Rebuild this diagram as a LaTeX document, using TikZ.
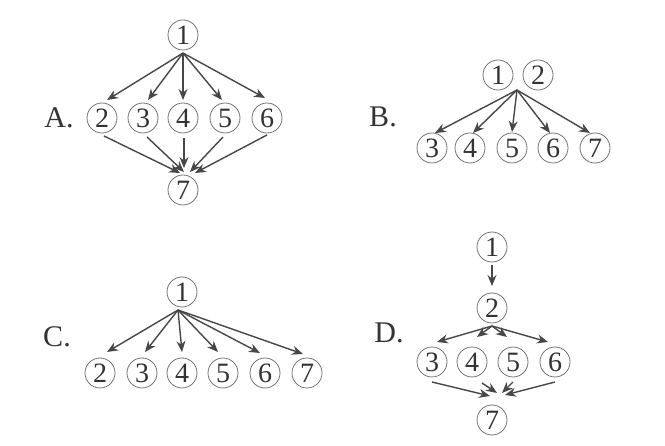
\documentclass[tikz,border=0pt]{standalone}
\usepackage{fontspec}
\setmainfont{Liberation Serif}
\usetikzlibrary{arrows.meta,calc}
\begin{document}
\begin{tikzpicture}[x=1pt,y=-1pt,
  num/.style={circle,draw=black!55,line width=0.8pt,minimum size=30pt,inner sep=0pt,
    font=\fontsize{28}{28}\selectfont,text=black!80},
  lab/.style={font=\fontsize{30}{30}\selectfont,text=black!80},
  arr/.style={draw=black!72,line width=1.4pt,-{Stealth[length=11pt,width=9pt]}}]
\useasboundingbox[fill=white] (0,0) rectangle (665,446);
% ---------- A ----------
\node[lab] (la) at (59,118) {A.};
\node[num] (a1) at (183,35) {1};
\node[num] (a2) at (102,118) {2};
\node[num] (a3) at (143,118) {3};
\node[num] (a4) at (183,118) {4};
\node[num] (a5) at (225,118) {5};
\node[num] (a6) at (267,118) {6};
\node[num] (a7) at (183,190) {7};
\coordinate (a1s) at ($(a1)+(0,18)$);
\draw[arr] (a1s) -- ($(a2)+(5,-18)$);
\draw[arr] (a1s) -- ($(a3)+(5,-18)$);
\draw[arr] (a1s) -- ($(a4)+(0,-18)$);
\draw[arr] (a1s) -- ($(a5)+(-3,-18)$);
\draw[arr] (a1s) -- ($(a6)+(-2,-20)$);
\draw[arr] ($(a2)+(2,18)$) -- ($(a7)+(-3,-17)$);
\draw[arr] ($(a3)+(4,19)$) -- ($(a7)+(1,-18)$);
\draw[arr] ($(a4)+(1,20)$) -- ($(a7)+(1,-22)$);
\draw[arr] ($(a5)+(-2,19)$) -- ($(a7)+(7,-18)$);
\draw[arr] ($(a6)+(0,17)$) -- ($(a7)+(12,-17)$);
% ---------- B ----------
\node[lab] (lb) at (383,117) {B.};
\node[num] (b1) at (498,75) {1};
\node[num] (b2) at (538,75) {2};
\node[num] (b3) at (432,148) {3};
\node[num] (b4) at (470,148) {4};
\node[num] (b5) at (512,148) {5};
\node[num] (b6) at (553,148) {6};
\node[num] (b7) at (595,148) {7};
\coordinate (bs) at ($(b1)!0.5!(b2)+(-1,15)$);
\draw[arr] (bs) -- ($(b3)+(3,-15)$);
\draw[arr] (bs) -- ($(b4)+(3,-15)$);
\draw[arr] (bs) -- ($(b5)+(0,-16)$);
\draw[arr] (bs) -- ($(b6)+(-3,-15)$);
\draw[arr] (bs) -- ($(b7)+(-5,-15)$);
% ---------- C ----------
\node[lab] (lc) at (57,337) {C.};
\node[num] (c1) at (182,292) {1};
\node[num] (c2) at (100,373) {2};
\node[num] (c3) at (142,373) {3};
\node[num] (c4) at (182,373) {4};
\node[num] (c5) at (223,373) {5};
\node[num] (c6) at (265,373) {6};
\node[num] (c7) at (307,373) {7};
\coordinate (cs) at ($(c1)+(-4,18)$);
\draw[arr] (cs) -- ($(c2)+(7,-21)$);
\draw[arr] (cs) -- ($(c3)+(3,-21)$);
\draw[arr] (cs) -- ($(c4)+(0,-21)$);
\draw[arr] (cs) -- ($(c5)+(-5,-21)$);
\draw[arr] (cs) -- ($(c6)+(-5,-20)$);
\draw[arr] (cs) -- ($(c7)+(-4,-19)$);
% ---------- D ----------
\node[lab] (ld) at (389,333) {D.};
\node[num] (d1) at (492,247) {1};
\node[num] (d2) at (492,308) {2};
\node[num] (d3) at (432,362) {3};
\node[num] (d4) at (472,362) {4};
\node[num] (d5) at (513,362) {5};
\node[num] (d6) at (555,362) {6};
\node[num] (d7) at (492,420) {7};
\draw[arr] ($(d1)+(0,18)$) -- ($(d2)+(0,-22)$);
\coordinate (ds) at ($(d2)+(0,18)$);
\draw[arr] (ds) -- ($(d3)+(5,-20)$);
\draw[arr] (ds) -- ($(d4)+(5,-25)$);
\draw[arr] (ds) -- ($(d5)+(-6,-25)$);
\draw[arr] (ds) -- ($(d6)+(-7,-20)$);
\draw[arr] ($(d3)+(0,20)$) -- ($(d7)+(-2,-24)$);
\draw[arr] ($(d4)+(10,21)$) -- ($(d7)+(5,-27)$);
\draw[arr] ($(d5)+(0,20)$) -- ($(d7)+(10,-27)$);
\draw[arr] ($(d6)+(0,20)$) -- ($(d7)+(13,-25)$);
\end{tikzpicture}
\end{document}
